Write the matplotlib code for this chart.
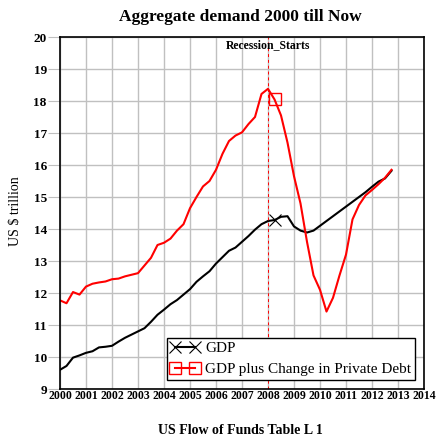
import matplotlib
matplotlib.use('Agg')
import matplotlib.pyplot as plt
import numpy as np

# quarterly data, US $ trillion
years = np.arange(2000, 2013, 0.25)
gdp = [9.60, 9.72, 9.98, 10.05, 10.13, 10.18, 10.30, 10.32,
       10.35, 10.48, 10.60, 10.70, 10.80, 10.90, 11.10, 11.32,
       11.48, 11.65, 11.78, 11.95, 12.12, 12.35, 12.52, 12.68,
       12.92, 13.12, 13.32, 13.42, 13.60, 13.78, 13.98, 14.15,
       14.25, 14.28, 14.38, 14.40, 14.08, 13.95, 13.89, 13.95,
       14.10, 14.25, 14.40, 14.55, 14.70, 14.85, 15.00, 15.15,
       15.32, 15.48, 15.58, 15.82]
gdp_debt = [11.77, 11.68, 12.03, 11.95, 12.20, 12.29, 12.33, 12.36,
            12.43, 12.45, 12.52, 12.57, 12.62, 12.86, 13.10, 13.50,
            13.57, 13.70, 13.95, 14.15, 14.65, 15.00, 15.33, 15.50,
            15.85, 16.35, 16.75, 16.92, 17.02, 17.28, 17.50, 18.22,
            18.38, 18.05, 17.55, 16.70, 15.65, 14.80, 13.60, 12.55,
            12.10, 11.42, 11.85, 12.55, 13.20, 14.30, 14.75, 15.05,
            15.22, 15.40, 15.60, 15.85]
recession_start = 2008
xticks = list(range(2000, 2015))
yticks = list(range(9, 21))

serif = ['Liberation Serif', 'DejaVu Serif']
plt.rcParams['font.family'] = serif

fig = plt.figure(figsize=(4.45, 4.41), dpi=100)
ax = fig.add_axes([60 / 445, 1 - 389 / 441, 364 / 445, 352 / 441])

ax.plot(years[:len(gdp)], gdp, color='black', lw=1.5, marker='x', ms=8,
        mew=0.8, markevery=[33], label='GDP')
ax.plot(years[:len(gdp_debt)], gdp_debt, color='red', lw=1.5, marker='s', ms=8,
        mfc='none', mec='red', mew=1.0, markevery=[33],
        label='GDP plus Change in Private Debt')

ax.axvline(recession_start, color='red', lw=0.7, ls=(0, (3, 3)))
ax.text(recession_start, 19.75, 'Recession_Starts', ha='center', va='center',
        fontsize=8.5, fontweight='bold')

ax.set_xlim(2000, 2014)
ax.set_ylim(9, 20)
ax.set_xticks(xticks)
ax.set_yticks(yticks)
ax.set_xticklabels([str(x) for x in xticks], fontsize=8.5, fontweight='bold')
ax.set_yticklabels([str(y) for y in yticks], fontsize=9.5, fontweight='bold')
ax.tick_params(axis='x', length=0, pad=1)
ax.tick_params(axis='y', length=8.5, color='#c0c0c0', pad=1)
ax.grid(True, color='#c0c0c0', lw=1)
ax.set_axisbelow(True)
for s in ax.spines.values():
    s.set_linewidth(1.2)

leg = ax.legend(loc='lower right', fontsize=11, numpoints=2, handlelength=1.9,
                fancybox=False, framealpha=1, edgecolor='black',
                borderpad=0.25, labelspacing=0.45, handletextpad=0.35,
                borderaxespad=0.6)
leg.get_frame().set_linewidth(1.0)

fig.text(240 / 445, 1 - 17 / 441, 'Aggregate demand 2000 till Now',
         ha='center', va='center', fontsize=12.5, fontweight='bold')
fig.text(240 / 445, 1 - 430 / 441, 'US Flow of Funds Table L 1',
         ha='center', va='center', fontsize=10, fontweight='bold')
fig.text(15 / 445, 1 - 211 / 441, 'US $ trillion', rotation=90,
         ha='center', va='center', fontsize=10)

fig.savefig('out.png', dpi=100)
